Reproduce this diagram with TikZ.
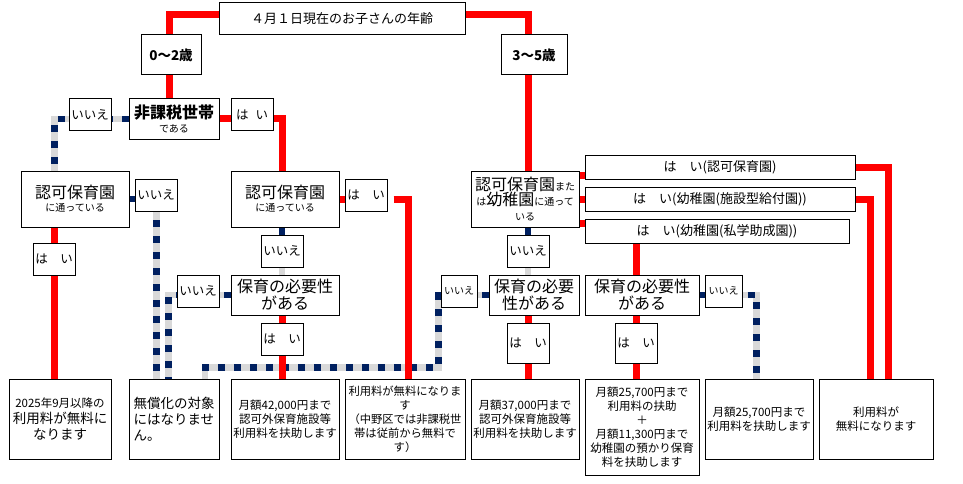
\documentclass[tikz,border=0pt]{standalone}
\usepackage{fontspec}
\setmainfont{Noto Sans CJK JP}
\usepackage{tikz}
\usetikzlibrary{positioning,backgrounds}
\definecolor{lanegray}{HTML}{D9D9D9}
\definecolor{lanenavy}{HTML}{002060}
\newcommand{\fbig}{\fontsize{16}{17}\selectfont}
\newcommand{\fsm}{\fontsize{10}{11}\selectfont}

\begin{document}
\begin{tikzpicture}[x=1pt, y=-1pt,
    box/.style={draw, rectangle, fill=white, line width=1pt, inner sep=1pt, align=center, font=\fontsize{12.5}{14}\selectfont},
    smallbox/.style={box, font=\fsm},
    bigbox/.style={box, font=\fontsize{16}{17}\selectfont},
    result/.style={box, minimum height=80pt, font=\fontsize{11.5}{14}\selectfont},
    yesline/.style={draw=red, line width=7pt},
    noline/.style={draw=lanenavy, line width=6.5pt, dash pattern=on 7pt off 9pt,
        preaction={draw=lanegray, solid, line width=6.5pt}}]
    \useasboundingbox (0,0) rectangle (963,484);

    % Question boxes
    \node[box, minimum width=246pt, minimum height=32pt, font=\fontsize{13}{14}\selectfont] (age) at (342,19) {４月１日現在のお子さんの年齢};
    \node[box, minimum width=60pt, minimum height=40pt, font=\fontsize{13.5}{14}\selectfont\bfseries] (young) at (171,55) {0〜2歳};
    \node[box, minimum width=66pt, minimum height=40pt, font=\fontsize{13.5}{14}\selectfont\bfseries] (old) at (534,55) {3〜5歳};

    \node[box, minimum width=90pt, minimum height=40pt, font=\fontsize{10}{14}\selectfont] (tax) at (174,119) {{\fbig\bfseries 非課税世帯}\\である};
    \node[box, minimum width=42pt, minimum height=32pt] (taxno) at (90,115) {いいえ};
    \node[box, minimum width=42pt, minimum height=32pt] (taxyes) at (252,115) {は\hspace{7pt}い};

    \node[box, minimum width=108pt, minimum height=56pt, font=\fontsize{10}{13}\selectfont] (nurseL) at (75,199) {{\fbig 認可保育園}\\に通っている};
    \node[box, minimum width=42pt, minimum height=32pt] (nurseLno) at (156,195) {いいえ};
    \node[box, minimum width=42pt, minimum height=32pt] (nurseLyes) at (54,259) {は　い};

    \node[box, minimum width=108pt, minimum height=56pt, font=\fontsize{10}{13}\selectfont] (nurseM) at (285,199) {{\fbig 認可保育園}\\に通っている};
    \node[box, minimum width=42pt, minimum height=32pt] (nurseMyes) at (366,195) {は　い};
    \node[box, minimum width=42pt, minimum height=32pt] (nurseMno) at (282,251) {いいえ};
    \node[bigbox, minimum width=108pt, minimum height=40pt] (needM) at (285,295) {保育の必要性\\がある};
    \node[box, minimum width=42pt, minimum height=32pt] (needMno) at (198,291) {いいえ};
    \node[box, minimum width=42pt, minimum height=32pt] (needMyes) at (282,339) {は　い};

    \node[box, minimum width=108pt, minimum height=56pt, font=\fontsize{10}{15}\selectfont] (nurseR) at (525,199) {{\fbig 認可保育園}また\\は{\fbig 幼稚園}に通って\\いる};
    \node[box, minimum width=42pt, minimum height=32pt] (nurseRno) at (528,251) {いいえ};
    \node[bigbox, minimum width=90pt, minimum height=40pt] (needR) at (534,295) {保育の必要\\性がある};
    \node[smallbox, minimum width=36pt, minimum height=32pt] (needRno) at (459,291) {いいえ};
    \node[box, minimum width=42pt, minimum height=40pt] (needRyes) at (528,343) {は　い};

    \node[box, minimum width=270pt, minimum height=24pt, font=\fontsize{13}{14}\selectfont] (kinderA) at (720,167) {は　い(認可保育園)};
    \node[box, minimum width=270pt, minimum height=24pt, font=\fontsize{13}{14}\selectfont] (kinderB) at (720,199) {は　い(幼稚園(施設型給付園))};
    \node[box, minimum width=264pt, minimum height=24pt, font=\fontsize{13}{14}\selectfont] (kinderC) at (717,231) {は　い(幼稚園(私学助成園))};
    \node[bigbox, minimum width=114pt, minimum height=40pt] (needK) at (642,295) {保育の必要性\\がある};
    \node[smallbox, minimum width=37pt, minimum height=32pt] (needKno) at (723.5,291) {いいえ};
    \node[box, minimum width=42pt, minimum height=40pt] (needKyes) at (636,343) {は　い};

    % Result boxes
    \node[result, minimum width=102pt, font=\fontsize{13.5}{16}\selectfont] (freeL) at (60,419) {{\fontsize{11.5}{14}\selectfont 2025年9月以降の}\\利用料が無料に\\なります};
    \node[result, minimum width=90pt, align=left, font=\fontsize{13.5}{16}\selectfont] (noneL) at (174,419) {無償化の対象\\にはなりませ\\ん。};
    \node[result, minimum width=108pt] (aid42) at (285,419) {月額42,000円まで\\認可外保育施設等\\利用料を扶助します};
    \node[result, minimum width=120pt, font=\fontsize{11.3}{14}\selectfont] (freeM) at (405,419) {利用料が無料になりま\\す\\（中野区では非課税世\\帯は従前から無料で\\す）};
    \node[result, minimum width=108pt] (aid37) at (525,419) {月額37,000円まで\\認可外保育施設等\\利用料を扶助します};
    \node[result, minimum width=114pt, minimum height=96pt] (aidK) at (642,427) {月額25,700円まで\\利用料の扶助\\＋\\月額11,300円まで\\幼稚園の預かり保育\\料を扶助します};
    \node[result, minimum width=108pt] (aid257) at (759,419) {月額25,700円まで\\利用料を扶助します};
    \node[result, minimum width=114pt] (freeR) at (876,419) {利用料が\\無料になります};

    % Lanes for the vertical runs
    \coordinate (laneA) at (169,0);
    \coordinate (laneB) at (282,0);
    \coordinate (laneC) at (54.5,0);
    \coordinate (laneD) at (156.5,0);
    \coordinate (laneE) at (168.5,0);
    \coordinate (laneF) at (205,0);
    \coordinate (laneG) at (408.5,0);
    \coordinate (laneH) at (438.5,0);
    \coordinate (laneI) at (528,0);
    \coordinate (laneJ) at (636.5,0);
    \coordinate (laneK) at (756.5,0);
    \coordinate (laneL) at (870.5,0);
    \coordinate (laneM) at (888.5,0);
    \coordinate (rowD) at (0,367.5);

    \begin{scope}[on background layer]
        % "no" branches
        \draw[noline] (tax.west) -| (nurseL.north -| laneC);
        \draw[noline] (nurseL.east) -| (noneL.north -| laneD);
        \draw[noline] (needM.west) -| (noneL.north -| laneE);
        \draw[noline] (needR.west) -| (laneH |- rowD) -| (noneL.north -| laneF);
        \draw[noline] (nurseM.south -| laneB) -- (needM.north -| laneB);
        \draw[noline] (nurseR.south -| laneI) -- (needR.north -| laneI);
        \draw[noline] (needK.east) -| (aid257.north -| laneK);

        % "yes" branches
        \draw[yesline] ([yshift=4pt]age.west) -| (tax.north -| laneA);
        \draw[yesline] ([yshift=4pt]age.east) -| (nurseR.north -| laneI);
        \draw[yesline] (tax.east) -| (nurseM.north -| laneB);
        \draw[yesline] (nurseL.south -| laneC) -- (freeL.north -| laneC);
        \draw[yesline] (nurseM.east) -- (nurseMyes.west |- nurseM.east);
        \draw[yesline] (nurseMyes.east |- nurseM.east) ++(6,0) -| (freeM.north -| laneG);
        \draw[yesline] (needM.south -| laneB) -- (aid42.north -| laneB);
        \draw[yesline] (needR.south -| laneI) -- (aid37.north -| laneI);
        \draw[yesline] ([yshift=-8pt]kinderA.west) -- ++(-6,0);
        \draw[yesline] (kinderB.west) -- (nurseR.east |- kinderB.west);
        \draw[yesline] ([yshift=8pt]kinderC.west) -- ++(-6,0);
        \draw[yesline] (kinderA.east) -| (freeR.north -| laneM);
        \draw[yesline] (kinderB.east) -| (freeR.north -| laneL);
        \draw[yesline] (kinderC.south -| laneJ) -- (aidK.north -| laneJ);
    \end{scope}
\end{tikzpicture}
\end{document}
